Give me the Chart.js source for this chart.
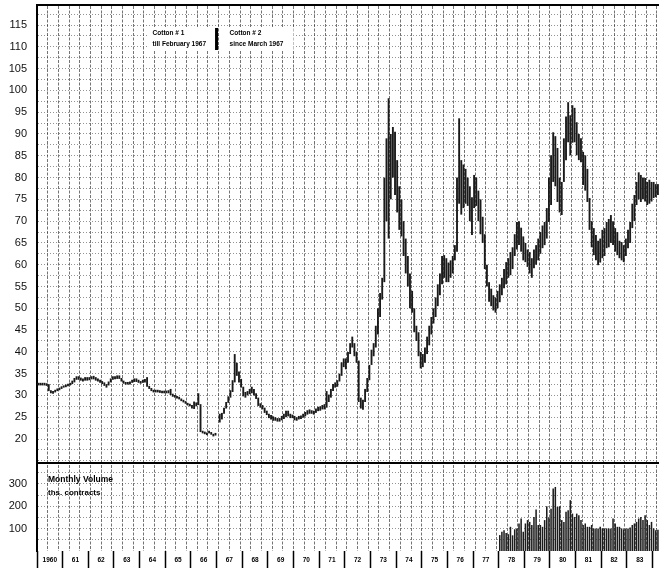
<!DOCTYPE html>
<html>
<head>
<meta charset="utf-8">
<script src="https://cdn.jsdelivr.net/npm/chart.js@4.4.1/dist/chart.umd.min.js"></script>
<style>
html, body { margin: 0; padding: 0; background: #fff; }
#wrap { position: relative; width: 659px; height: 568px; }
</style>
</head>
<body>
<div id="wrap"><canvas id="cotton"></canvas></div>
<script>
// monthly low/high, cents per lb, Jan..Dec
const range1960 = [[32.3,32.9],[32.3,32.9],[32.3,32.9],[32.3,32.9],[32.2,32.8],[31.0,32.6],[30.5,31.2],[30.4,31.0],[30.7,31.3],[31.0,31.6],[31.2,31.8],[31.5,32.1]];
const range1961 = [[31.8,32.3],[31.9,32.5],[32.1,32.7],[32.3,32.9],[32.6,33.4],[33.0,34.0],[33.6,34.4],[33.6,34.4],[33.4,34.1],[33.2,33.9],[33.4,34.2],[33.4,34.2]];
const range1962 = [[33.5,34.2],[33.7,34.4],[33.7,34.5],[33.4,34.2],[33.2,33.9],[32.9,33.6],[32.6,33.3],[32.2,33.0],[31.8,32.6],[32.3,33.2],[33.0,33.9],[33.6,34.4]];
const range1963 = [[33.7,34.4],[33.8,34.6],[33.8,34.6],[33.2,34.0],[32.7,33.4],[32.5,33.1],[32.5,33.1],[32.5,33.2],[32.9,33.6],[33.1,33.9],[33.1,33.9],[32.9,33.6]];
const range1964 = [[32.7,33.3],[32.9,33.6],[33.0,33.8],[32.0,34.2],[31.5,32.2],[31.0,31.7],[30.7,31.3],[30.7,31.3],[30.7,31.3],[30.6,31.2],[30.5,31.1],[30.5,31.1]];
const range1965 = [[30.5,31.1],[30.5,31.2],[30.1,31.5],[29.7,30.4],[29.5,30.1],[29.3,29.9],[29.1,29.7],[28.7,29.3],[28.4,29.0],[28.1,28.7],[27.7,28.3],[27.5,28.1]];
const range1966 = [[27.0,27.8],[26.9,28.6],[27.5,28.4],[27.8,30.5],[21.6,28.0],[21.3,21.9],[21.1,21.7],[20.9,21.5],[21.3,21.9],[21.0,21.6],[20.6,21.2],[20.8,21.4]];
const range1967 = [null,[23.8,25.8],[24.5,26.0],[25.8,27.2],[27.0,28.5],[28.3,29.8],[29.5,31.2],[30.8,33.5],[33.0,39.5],[34.5,37.5],[33.0,35.5],[31.8,33.8]];
const range1968 = [[29.8,32.0],[29.5,30.8],[30.0,31.0],[30.3,31.5],[30.5,32.0],[30.0,31.5],[29.2,30.5],[27.6,29.5],[27.2,28.2],[26.8,27.8],[26.0,27.2],[25.5,26.5]];
const range1969 = [[24.8,25.8],[24.5,25.5],[24.2,25.2],[24.2,25.0],[24.0,24.8],[24.0,24.8],[24.3,25.3],[24.6,25.8],[25.0,26.5],[25.2,26.5],[24.8,25.8],[24.8,25.6]];
const range1970 = [[24.3,25.3],[24.2,25.0],[24.5,25.3],[24.6,25.4],[24.9,25.8],[25.2,26.2],[25.6,26.6],[25.8,26.8],[25.8,26.6],[25.6,26.5],[26.0,27.0],[26.4,27.4]];
const range1971 = [[26.5,27.5],[26.8,27.8],[26.8,28.0],[27.2,31.0],[28.5,30.2],[29.5,31.5],[31.0,32.6],[31.8,33.0],[32.0,33.5],[33.2,35.0],[34.5,37.6],[36.5,38.5]];
const range1972 = [[36.0,38.5],[37.5,40.0],[39.5,42.0],[41.0,43.5],[39.0,42.0],[37.5,40.0],[28.5,38.0],[27.0,29.5],[26.7,29.0],[28.5,31.5],[30.8,34.0],[33.5,37.0]];
const range1973 = [[37.0,40.5],[39.0,42.0],[41.0,46.0],[44.0,50.0],[48.0,53.5],[52.0,57.0],[56.0,80.0],[70.0,89.0],[66.0,98.2],[75.0,90.0],[80.0,91.6],[76.0,90.5]];
const range1974 = [[72.0,84.0],[68.0,78.0],[66.5,75.0],[62.0,70.0],[58.0,66.0],[55.0,62.0],[50.0,58.0],[49.0,54.0],[44.5,50.0],[42.5,46.0],[39.0,44.5],[36.2,40.0]];
const range1975 = [[36.5,39.5],[37.5,41.0],[39.5,43.5],[41.5,46.0],[44.0,48.0],[46.5,50.0],[48.0,52.5],[50.5,55.5],[53.0,58.0],[55.5,62.0],[57.0,62.2],[56.0,61.5]];
const range1976 = [[56.0,60.5],[57.0,61.0],[58.0,62.0],[61.0,64.5],[63.0,80.0],[74.0,93.6],[71.5,84.0],[73.0,83.0],[74.0,82.0],[73.5,80.0],[70.0,78.0],[66.8,75.5]];
const range1977 = [[73.0,80.6],[73.5,80.0],[70.0,77.0],[67.0,75.0],[65.0,71.0],[59.0,67.0],[55.0,60.0],[51.5,56.0],[50.5,54.5],[49.5,53.0],[49.0,52.5],[50.0,54.0]];
const range1978 = [[51.4,55.5],[53.0,57.0],[54.6,59.0],[55.5,60.6],[57.0,61.5],[57.6,62.9],[59.0,64.0],[62.0,67.0],[63.5,69.8],[64.5,70.0],[63.0,68.5],[61.0,66.5]];
const range1979 = [[60.6,65.0],[59.5,63.5],[58.0,62.9],[57.0,61.5],[59.2,63.5],[60.0,64.5],[61.0,66.0],[62.5,67.5],[63.8,69.0],[64.5,69.8],[66.0,73.0],[69.8,80.0]];
const range1980 = [[73.7,85.1],[79.0,90.4],[78.0,89.5],[74.4,86.8],[72.0,80.0],[71.4,79.0],[79.0,89.0],[84.0,94.0],[88.1,97.3],[85.1,94.3],[88.0,96.6],[88.1,96.0]];
const range1981 = [[85.1,92.7],[84.0,90.0],[83.5,89.0],[78.3,85.9],[77.0,85.1],[74.4,82.0],[68.0,75.3],[64.0,70.0],[62.2,68.4],[61.0,66.8],[59.9,65.5],[60.5,66.0]];
const range1982 = [[61.5,68.0],[62.0,68.4],[63.8,69.8],[64.0,70.5],[65.0,71.4],[64.5,70.0],[63.0,68.4],[62.2,67.5],[61.5,65.5],[61.0,65.2],[60.6,64.5],[62.0,66.0]];
const range1983 = [[63.8,68.0],[65.0,69.8],[68.4,74.0],[70.0,76.0],[73.7,79.0],[75.0,81.2],[74.4,80.6],[75.0,80.0],[74.5,79.9],[73.7,79.0],[74.0,79.5],[74.5,79.0]];
const range1984 = [[75.3,79.0],[75.5,78.5],[76.0,78.5]];

// monthly volume, ths. contracts (only shown from 1978)
const volume1978 = [71, 86, 93, 80, 75, 108, 70, 97, 101, 123, 145, 86];
const volume1979 = [123, 138, 130, 116, 152, 185, 116, 116, 108, 138, 200, 150];
const volume1980 = [189, 279, 286, 197, 200, 138, 130, 175, 182, 227, 167, 152];
const volume1981 = [167, 160, 138, 116, 123, 108, 108, 116, 101, 101, 101, 108];
const volume1982 = [101, 101, 101, 101, 101, 145, 123, 108, 108, 101, 97, 101];
const volume1983 = [101, 105, 116, 123, 130, 145, 152, 138, 160, 138, 116, 130];
const volume1984 = [101, 93, 95];

const priceTicks = [20, 25, 30, 35, 40, 45, 50, 55, 60, 65, 70, 75, 80, 85, 90, 95, 100, 105, 110, 115];
const volumeTicks = [100, 200, 300];
const yearLabels = ['1960','61','62','63','64','65','66','67','68','69','70','71','72','73','74','75','76','77','78','79','80','81','82','83'];

const firstYear = 1960;
const volumeStart = 1978;

const priceRanges = [].concat(range1960, range1961, range1962, range1963, range1964, range1965,
  range1966, range1967, range1968, range1969, range1970, range1971, range1972, range1973,
  range1974, range1975, range1976, range1977, range1978, range1979, range1980, range1981,
  range1982, range1983, range1984);

const volumes = [].concat(volume1978, volume1979, volume1980, volume1981, volume1982, volume1983, volume1984);
let volumeSeries = new Array((volumeStart - firstYear) * 12).fill(null).concat(volumes);

let months = priceRanges.map((v, i) => (firstYear + Math.floor(i / 12)) + '-' + (i % 12 + 1));
const lastYear = firstYear + months.length / 12;

const labelFont = { family: '"Liberation Sans", Arial, sans-serif', size: 11 };

// drop the automatic label padding so the plot fills the frame
function noPad(s) {
  s.paddingTop = 0; s.paddingBottom = 0; s.paddingLeft = 0; s.paddingRight = 0;
}

const notes = {
  id: 'notes',
  afterDraw(chart) {
    const { ctx, chartArea, scales } = chart;
    const ys = scales.yv.top;
    ctx.save();
    ctx.strokeStyle = '#000';
    ctx.lineWidth = 2;
    ctx.beginPath();
    ctx.moveTo(chartArea.left, ys);
    ctx.lineTo(chartArea.right, ys);
    ctx.stroke();

    // contract switch note
    const xs = scales.years.getPixelForValue(1967);
    const top = chartArea.top + 22;
    ctx.fillStyle = '#fff';
    ctx.fillRect(xs - 68, top, 66, 24);
    ctx.fillRect(xs + 3, top, 74, 24);
    ctx.fillStyle = '#000';
    ctx.fillRect(xs - 1.5, top + 1, 3, 22);
    ctx.font = 'bold 6.5px "Liberation Sans", Arial, sans-serif';
    ctx.textBaseline = 'middle';
    ctx.fillText('Cotton # 1', xs - 64, top + 6);
    ctx.fillText('till February 1967', xs - 64, top + 17);
    ctx.fillText('Cotton # 2', xs + 13, top + 6);
    ctx.fillText('since March 1967', xs + 13, top + 17);

    ctx.font = 'bold 8.5px "Liberation Sans", Arial, sans-serif';
    ctx.fillText('Monthly Volume', chartArea.left + 11, ys + 17);
    ctx.font = 'bold 8px "Liberation Sans", Arial, sans-serif';
    ctx.fillText('ths. contracts', chartArea.left + 11, ys + 30);
    ctx.restore();
  }
};

new Chart(document.getElementById('cotton'), {
  type: 'bar',
  data: {
    labels: months,
    datasets: [{
      label: 'Cotton',
      data: priceRanges,
      xAxisID: 'x',
      yAxisID: 'y',
      backgroundColor: '#1a1a1a',
      borderWidth: 0,
      barPercentage: 0.88,
      categoryPercentage: 1,
      grouped: false
    }, {
      label: 'Volume',
      data: volumeSeries,
      xAxisID: 'x',
      yAxisID: 'yv',
      backgroundColor: '#1c1c1c',
      borderWidth: 0,
      barPercentage: 0.72,
      categoryPercentage: 1,
      grouped: false
    }]
  },
  options: {
    responsive: true,
    maintainAspectRatio: false,
    animation: false,
    layout: { padding: { top: 5, left: 0, right: 0, bottom: 0 } },
    plugins: { legend: { display: false }, tooltip: { enabled: false } },
    scales: {
      x: { type: 'category', display: false, offset: true },
      // graph-paper verticals, one every five months
      paper: {
        axis: 'x', type: 'linear', position: 'top', min: firstYear, max: lastYear, offset: false,
        afterBuildTicks: s => {
          const t = [];
          for (let k = 1; firstYear + k * 5 / 12 < lastYear; k++) t.push({ value: firstYear + k * 5 / 12 });
          s.ticks = t;
        },
        ticks: { display: false, autoSkip: false },
        grid: { offset: false, color: 'rgba(30,30,30,0.62)', lineWidth: 1, drawTicks: false },
        border: { display: true, color: '#000', width: 2, dash: [3, 1.5] },
        afterFit: s => { s.height = 0; noPad(s); }
      },
      // year boundary marks (zero-height box, marks hang below the plot)
      years: {
        axis: 'x', type: 'linear', position: 'bottom', weight: -1, min: firstYear, max: lastYear, offset: false,
        afterBuildTicks: s => {
          const t = [];
          for (let y = firstYear; y <= Math.floor(lastYear); y++) t.push({ value: y });
          s.ticks = t;
        },
        grid: { offset: false, drawOnChartArea: false, drawTicks: true, tickLength: 17, tickColor: '#000', tickWidth: 1.5 },
        border: { display: false },
        ticks: { display: false, autoSkip: false },
        afterFit: s => { s.height = 0; noPad(s); }
      },
      // year names, centred in each year
      yearNames: {
        axis: 'x', type: 'linear', position: 'bottom', weight: 1, min: firstYear, max: lastYear, offset: false,
        afterBuildTicks: s => {
          s.ticks = yearLabels.map((l, i) => ({ value: firstYear + i + 0.5 }));
        },
        grid: { offset: false, display: false, drawTicks: false },
        border: { display: false },
        ticks: {
          autoSkip: false, maxRotation: 0, minRotation: 0, padding: 5,
          color: '#000',
          font: { family: '"Liberation Sans", Arial, sans-serif', size: 6.5, weight: 'bold' },
          callback: (v, i) => yearLabels[i]
        },
        afterFit: s => { s.height = 17; noPad(s); }
      },
      y: {
        type: 'linear', position: 'left', stack: 'panes', stackWeight: 458, weight: 1,
        min: 14.5, max: 119.6,
        afterBuildTicks: s => {
          const t = [];
          for (let v = 15; v <= 118; v += 2.5) t.push({ value: v });
          s.ticks = t;
        },
        grid: { color: 'rgba(40,40,40,0.5)', lineWidth: 1, drawTicks: false },
        border: { display: true, color: '#000', width: 2, dash: [1, 2] },
        ticks: {
          autoSkip: false,
          padding: 10, color: '#111', font: labelFont,
          callback: v => priceTicks.includes(v) ? String(v) : ''
        },
        afterFit: s => { s.width = 37; noPad(s); }
      },
      yv: {
        type: 'linear', position: 'left', stack: 'panes', stackWeight: 88, weight: 0,
        min: 0, max: 393,
        afterBuildTicks: s => {
          const t = [];
          for (let v = 50; v <= 350; v += 50) t.push({ value: v });
          s.ticks = t;
        },
        grid: { color: 'rgba(40,40,40,0.5)', lineWidth: 1, drawTicks: false },
        border: { display: true, color: '#000', width: 2, dash: [1, 2] },
        ticks: {
          autoSkip: false,
          padding: 10, color: '#111', font: labelFont,
          callback: v => volumeTicks.includes(v) ? String(v) : ''
        },
        afterFit: s => { s.width = 37; noPad(s); }
      }
    }
  },
  plugins: [notes]
});
</script>
</body>
</html>
